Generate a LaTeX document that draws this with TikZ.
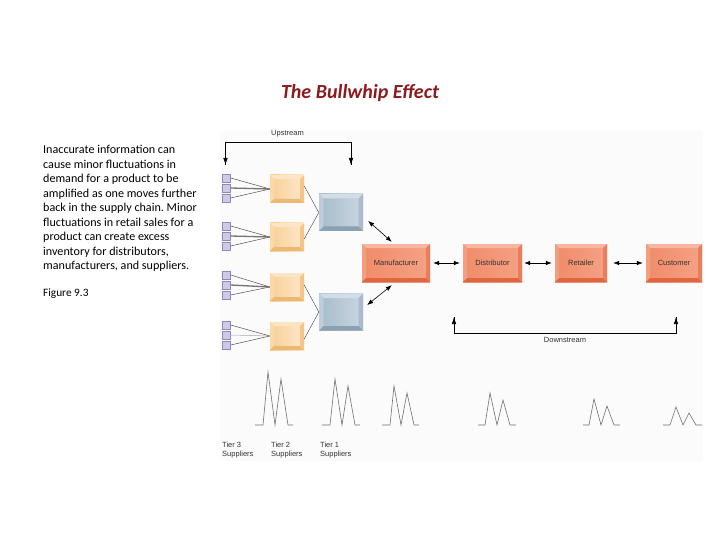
\documentclass[tikz,border=0pt]{standalone}
\usepackage{fontspec}
\setmainfont{Carlito}
\newfontfamily\diagfont{Liberation Sans}
\usetikzlibrary{arrows.meta,calc}
\definecolor{titlered}{HTML}{8C1B1E}
\definecolor{bggray}{HTML}{FBFBFB}
\definecolor{sqfill}{HTML}{CFC8E6}
\definecolor{sqdraw}{HTML}{9088BA}
\definecolor{wavec}{HTML}{707070}
\definecolor{linec}{HTML}{505050}
\definecolor{oA}{HTML}{F8CF95}
\definecolor{oB}{HTML}{FDE8CB}
\definecolor{oT}{HTML}{FCE5C4}
\definecolor{oL}{HTML}{FAD9A9}
\definecolor{oBo}{HTML}{EDB774}
\definecolor{oR}{HTML}{F3C587}
\definecolor{bA}{HTML}{A7BBCB}
\definecolor{bB}{HTML}{C9D6E0}
\definecolor{bT}{HTML}{D2DDE6}
\definecolor{bL}{HTML}{BFCDD9}
\definecolor{bBo}{HTML}{8BA0B2}
\definecolor{bR}{HTML}{A9BBCA}
\definecolor{rA}{HTML}{F08B69}
\definecolor{rB}{HTML}{F5A285}
\definecolor{rT}{HTML}{F8B7A0}
\definecolor{rL}{HTML}{F49E80}
\definecolor{rBo}{HTML}{DF6640}
\definecolor{rR}{HTML}{E87E5B}
\tikzset{
  bev/.style n args={7}{
    left color=#1, right color=#2, inner sep=0pt, draw=none,
    font=\diagfont\fontsize{7.5}{9}\selectfont, text=black!80,
    path picture={
      \fill[#3] (path picture bounding box.north west) -- (path picture bounding box.north east)
        -- ([shift={(-#7,-#7)}]path picture bounding box.north east) -- ([shift={(#7,-#7)}]path picture bounding box.north west) -- cycle;
      \fill[#4] (path picture bounding box.north west) -- (path picture bounding box.south west)
        -- ([shift={(#7,#7)}]path picture bounding box.south west) -- ([shift={(#7,-#7)}]path picture bounding box.north west) -- cycle;
      \fill[#5] (path picture bounding box.south west) -- (path picture bounding box.south east)
        -- ([shift={(-#7,#7)}]path picture bounding box.south east) -- ([shift={(#7,#7)}]path picture bounding box.south west) -- cycle;
      \fill[#6] (path picture bounding box.north east) -- (path picture bounding box.south east)
        -- ([shift={(-#7,#7)}]path picture bounding box.south east) -- ([shift={(-#7,-#7)}]path picture bounding box.north east) -- cycle;
    }},
  orangebox/.style={bev={oA}{oB}{oT}{oL}{oBo}{oR}{4pt}, minimum width=34pt, minimum height=28pt},
  bluebox/.style={bev={bA}{bB}{bT}{bL}{bBo}{bR}{4.5pt}, minimum width=44pt, minimum height=37pt},
  redbox/.style={bev={rA}{rB}{rT}{rL}{rBo}{rR}{4pt}, minimum height=38pt},
  sq/.style={draw=sqdraw, fill=sqfill, line width=0.5pt, minimum size=8pt, inner sep=0pt},
  feed/.style={draw=linec, line width=0.5pt},
  feedthick/.style={draw=linec!80, line width=1.3pt},
  thin/.style={draw=black!75, line width=0.4pt},
  dbl/.style={{Latex[length=6pt,width=4.5pt]}-{Latex[length=6pt,width=4.5pt]}, line width=0.6pt},
  bracket/.style={line width=0.6pt},
  btip/.style={-{Latex[length=7pt,width=4.5pt]}},
  lab/.style={font=\diagfont\fontsize{7.5}{9}\selectfont, text=black!80, inner sep=0pt},
  wave/.style={draw=wavec, line width=0.6pt, line join=miter}
}
\begin{document}
\begin{tikzpicture}[x=1pt,y=-1pt]
\useasboundingbox (0,0) rectangle (720,540);
\fill[bggray] (220,131) rectangle (703,461);

% title and text
\node[font=\fontsize{20}{24}\selectfont\bfseries\itshape, text=titlered] (title) at (360,93) {The Bullwhip Effect};
\node[anchor=north west, inner sep=0pt, align=left, font=\fontsize{12.1}{14.5}\selectfont] (body) at (43,145)
 {Inaccurate information can\\cause minor fluctuations in\\demand for a product to be\\amplified as one moves further\\back in the supply chain.\ Minor\\fluctuations in retail sales for a\\product can create excess\\inventory for distributors,\\manufacturers, and suppliers.};
\node[anchor=north west, inner sep=0pt, font=\fontsize{11.3}{13}\selectfont] (fig) at (43,289) {Figure 9.3};

% orange boxes
\node[orangebox] (o1) at (287,189) {};
\node[orangebox] (o2) at (287,237) {};
\node[orangebox] (o3) at (287,287) {};
\node[orangebox] (o4) at (287,336) {};
% blue boxes
\node[bluebox] (b1) at (341,212.5) {};
\node[bluebox] (b2) at (341,312) {};
% red boxes
\node[redbox, minimum width=68pt] (m) at (396,263) {Manufacturer};
\node[redbox, minimum width=59pt] (d) at (492.5,263) {Distributor};
\node[redbox, minimum width=52pt] (r) at (581,263) {Retailer};
\node[redbox, minimum width=56pt] (c) at (674,263) {Customer};

% small squares
\foreach \g/\y in {1/178,2/226,3/275,4/325}{
  \node[sq] (s\g1) at (226.5,\y) {};
  \node[sq] (s\g2) at (226.5,\y+10) {};
  \node[sq] (s\g3) at (226.5,\y+20) {};
}
\foreach \g in {1,2,3,4}{
  \draw[feed] (s\g1.east) -- (o\g.west);
  \draw[feed] (s\g3.east) -- (o\g.west);
}
\draw[feedthick] (s12.east) -- (o1.west);
\draw[feedthick] (s22.east) -- (o2.west);
\draw[feedthick] (s32.east) -- (o3.west);
\draw[draw=linec!50, line width=0.5pt] (s42.east) -- (o4.west);

% orange to blue
\draw[thin] ([yshift=3pt]o1.east) -- (b1.west);
\draw[thin] ([yshift=-2pt]o2.east) -- (b1.west);
\draw[thin] ([yshift=2pt]o3.east) -- (b2.west);
\draw[thin] ([yshift=-3pt]o4.east) -- (b2.west);

% blue to manufacturer
\draw[dbl] ($(b1.east)+(5,8.5)$) -- ($(m.north west)+(30,-2)$);
\draw[dbl] ($(b2.east)+(4,-7)$) -- ($(m.south west)+(30,3)$);

% chain arrows
\draw[dbl] ([xshift=3pt]m.east) -- ([xshift=-3pt]d.west);
\draw[dbl] ([xshift=2pt]d.east) -- ([xshift=-3pt]r.west);
\draw[dbl] ([xshift=6pt]r.east) -- ([xshift=-3pt]c.west);

% upstream bracket
\coordinate (ul) at (225.5,142);
\coordinate (ur) at (351,142);
\coordinate (ult) at (225.5,165);
\coordinate (urt) at (351,165);
\node[lab] (up) at (287.5,134) {Upstream};
\draw[bracket] (ult) -- (ul) -- (ur) -- (urt);
\draw[bracket, btip] (ul) -- (ult);
\draw[bracket, btip] (ur) -- (urt);

% downstream bracket
\coordinate (dl) at (454,333);
\coordinate (dr) at (676,333);
\coordinate (dlt) at (454,317);
\coordinate (drt) at (676,317);
\draw[bracket] (dlt) -- (dl) -- (dr) -- (drt);
\draw[bracket, btip] (dl) -- (dlt);
\draw[bracket, btip] (dr) -- (drt);
\node[lab] (down) at (565,340) {Downstream};

% waves
\draw[wave] (255,425) -- (263,425) -- (268,372) -- (275,425) -- (281,379) -- (288,425) -- (293,425);
\draw[wave] (322,425) -- (330,425) -- (335,379) -- (342,425) -- (348,386) -- (355,425) -- (360,425);
\draw[wave] (382,425) -- (390,425) -- (394,386) -- (401,425) -- (407,393) -- (414,425) -- (419,425);
\draw[wave] (478,425) -- (485,425) -- (490,393) -- (497,425) -- (503,400) -- (510,425) -- (516,425);
\draw[wave] (583,425) -- (589,425) -- (594,399) -- (601,425) -- (607,406) -- (614,425) -- (620,425);
\draw[wave] (663,425) -- (670,425) -- (676,407) -- (683,425) -- (689,413) -- (696,425) -- (702,425);

% tier labels
\node[lab, anchor=north west, align=left] (t3) at (222,442) {Tier 3\\Suppliers};
\node[lab, anchor=north west, align=left] (t2) at (271,442) {Tier 2\\Suppliers};
\node[lab, anchor=north west, align=left] (t1) at (320,442) {Tier 1\\Suppliers};
\end{tikzpicture}
\end{document}
